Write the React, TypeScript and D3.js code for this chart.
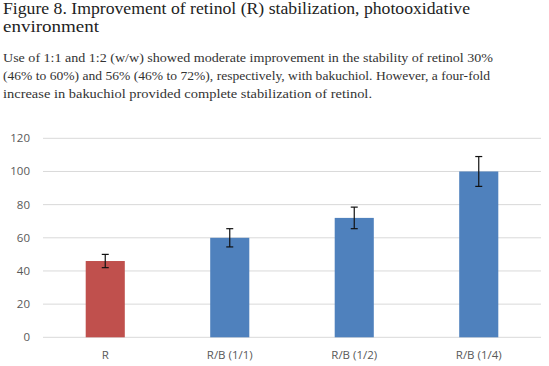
import React from "react";
import * as d3 from "d3";

const categories = ["R", "R/B (1/1)", "R/B (1/2)", "R/B (1/4)"];
const values = [46, 60, 72, 100];
const errors = [4, 5.5, 6.5, 9];
const barColors = ["#C0504D", "#4F81BD", "#4F81BD", "#4F81BD"];
const yTicks = [0, 20, 40, 60, 80, 100, 120];
const titleLines = [
  "Figure 8. Improvement of retinol (R) stabilization, photooxidative",
  "environment",
];
const bodyLines = [
  "Use of 1:1 and 1:2 (w/w) showed moderate improvement in the stability of retinol 30%",
  "(46% to 60%) and 56% (46% to 72%), respectively, with bakuchiol. However, a four-fold",
  "increase in bakuchiol provided complete stabilization of retinol.",
];

export default function App() {
  const W = 549;
  const H = 366;
  const left = 43;
  const right = 541;
  const top = 138.3;
  const bottom = 337.3;
  const x = d3.scaleBand<string>().domain(categories).range([left, right]).paddingInner(0.686).paddingOuter(0.343);
  const y = d3.scaleLinear().domain([0, 120]).range([bottom, top]);
  const cap = 3.5;
  const titleWidths = [467, 96];
  const bodyWidths = [490, 487, 369];
  return (
    <svg width={W} height={H} style={{ position: "absolute", left: 0, top: 0, background: "#fff" }}>
      <rect x={0} y={0} width={W} height={H} fill="#fff" />
      {titleLines.map((t, i) => (
        <text
          key={t}
          x={3}
          y={13.8 + i * 18}
          fontFamily="'Liberation Serif', serif"
          fontSize={16.5}
          fill="#222"
          textLength={titleWidths[i]}
          lengthAdjust="spacingAndGlyphs"
        >
          {t}
        </text>
      ))}
      {bodyLines.map((t, i) => (
        <text
          key={t}
          x={3}
          y={62 + i * 18.2}
          fontFamily="'Liberation Serif', serif"
          fontSize={13.5}
          fill="#333"
          textLength={bodyWidths[i]}
          lengthAdjust="spacingAndGlyphs"
        >
          {t}
        </text>
      ))}
      {yTicks.map((v) => (
        <g key={v}>
          <line x1={left} x2={right} y1={y(v)} y2={y(v)} stroke="#D9D9D9" strokeWidth={1} />
          <text
            x={30}
            y={y(v)}
            dy="0.35em"
            textAnchor="end"
            fontFamily="'Open Sans', 'Noto Sans', sans-serif"
            fontSize={11.5}
            fill="#595959"
          >
            {v}
          </text>
        </g>
      ))}
      {categories.map((c, i) => {
        const bx = x(c) as number;
        const cx = bx + x.bandwidth() / 2;
        return (
          <g key={c}>
            <rect x={bx} y={y(values[i])} width={x.bandwidth()} height={y(0) - y(values[i])} fill={barColors[i]} />
            <line x1={cx} x2={cx} y1={y(values[i] + errors[i])} y2={y(values[i] - errors[i])} stroke="#111" strokeWidth={1.2} />
            <line x1={cx - cap} x2={cx + cap} y1={y(values[i] + errors[i])} y2={y(values[i] + errors[i])} stroke="#111" strokeWidth={1.2} />
            <line x1={cx - cap} x2={cx + cap} y1={y(values[i] - errors[i])} y2={y(values[i] - errors[i])} stroke="#111" strokeWidth={1.2} />
            <text
              x={cx}
              y={355}
              dy="0.35em"
              textAnchor="middle"
              fontFamily="'Open Sans', 'Noto Sans', sans-serif"
              fontSize={11.5}
              fill="#595959"
            >
              {c}
            </text>
          </g>
        );
      })}
    </svg>
  );
}
